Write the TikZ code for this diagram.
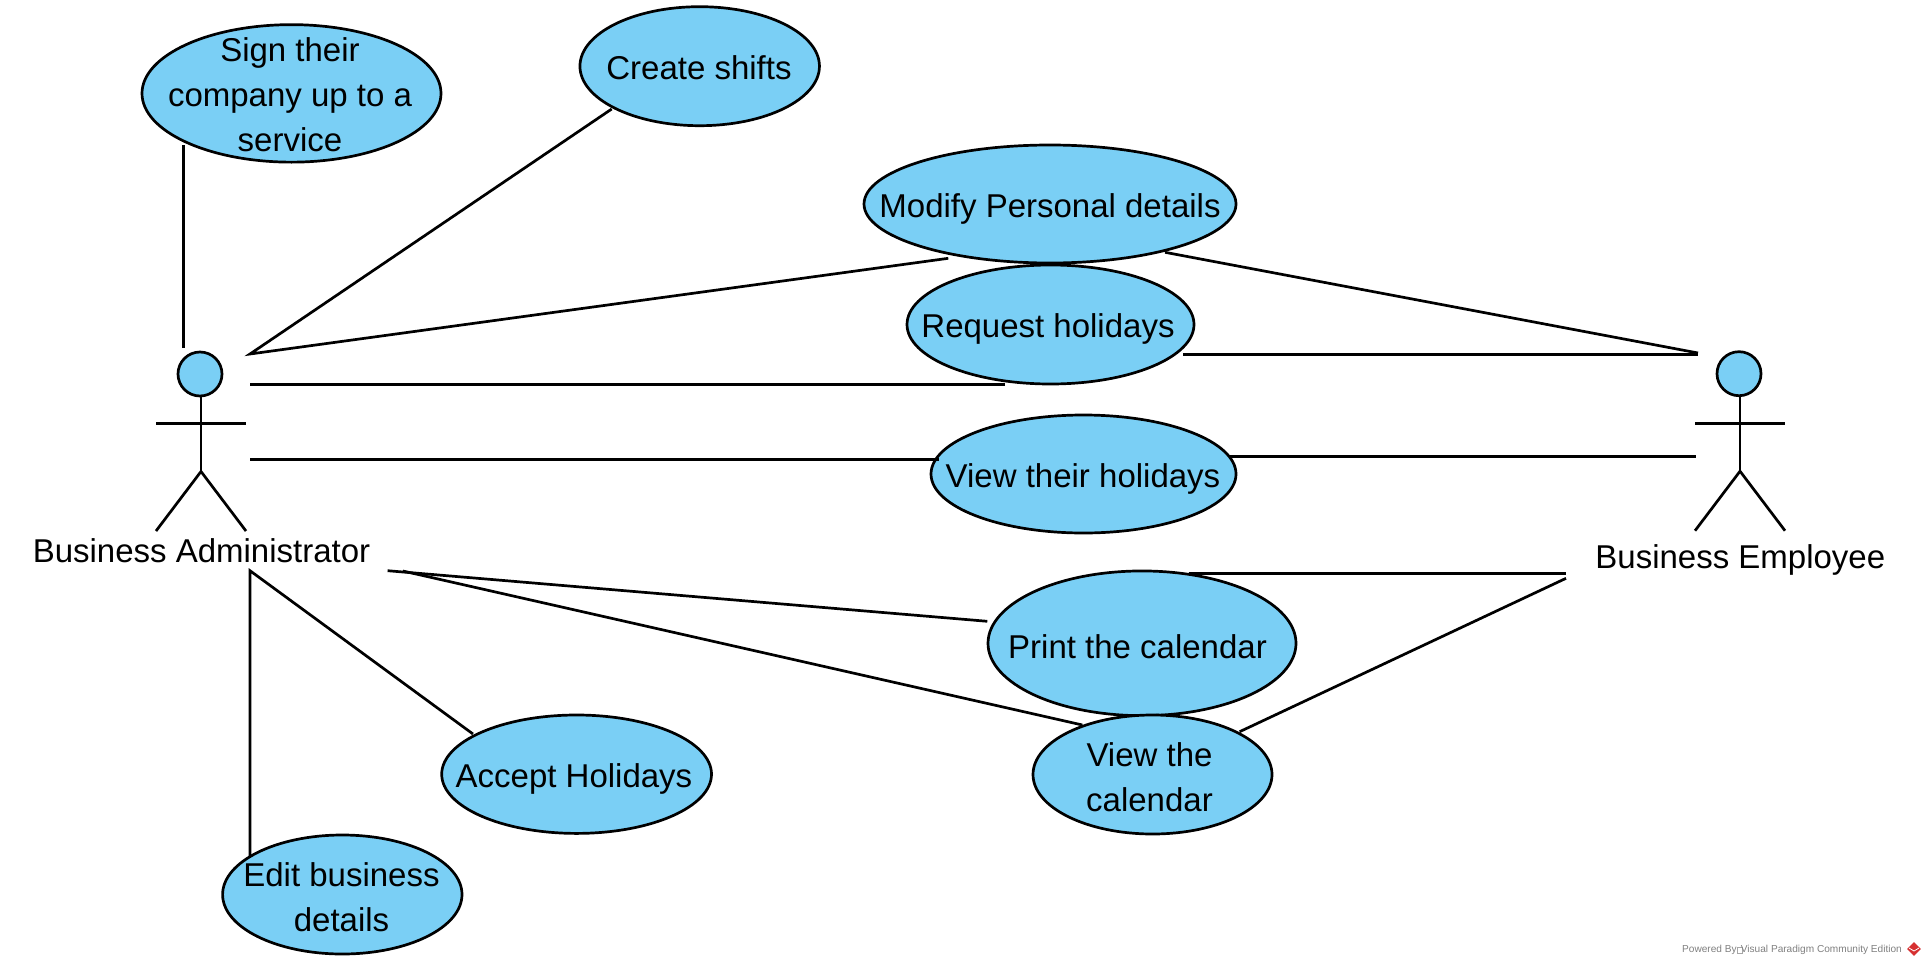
\documentclass[tikz,border=0pt]{standalone}
\usepackage{fontspec}
\setmainfont{Liberation Sans}
\usetikzlibrary{shapes.geometric}
\definecolor{ucblue}{RGB}{122,207,245}
\definecolor{vpgray}{RGB}{128,128,128}
\definecolor{vpred}{RGB}{214,48,49}
\tikzset{
  uc/.style={ellipse,draw=black,fill=ucblue,line width=2.7pt,inner sep=0pt,outer sep=0pt,minimum width=#1},
  lbl/.style={inner sep=0pt,outer sep=0pt,align=center,font=\fontsize{33}{45}\selectfont,text=black},
  conn/.style={draw=black,line width=2.7pt},
  limb/.style={draw=black,line width=2.7pt},
  foot/.style={inner sep=0pt,font=\fontsize{10.1}{12}\selectfont,text=vpgray}
}
\newcommand{\actorfig}[3]{%
  \node[circle,draw=black,fill=ucblue,line width=2.7pt,minimum size=44pt,inner sep=0pt,outer sep=0pt] (#1) at (#2,#3) {};
  \coordinate (#1n) at (#2+1,#3+23);
  \coordinate (#1hip) at (#2+1,#3+97.5);
  \coordinate (#1a) at (#2-44,#3+49.5);
  \coordinate (#1b) at (#2+46,#3+49.5);
  \coordinate (#1l) at (#2-44,#3+157);
  \coordinate (#1r) at (#2+46,#3+157);
  \draw[limb] (#1n) -- (#1hip);
  \draw[limb] (#1a) -- (#1b);
  \draw[limb] (#1l) -- (#1hip) -- (#1r);
}
\begin{document}
\begin{tikzpicture}[x=1pt,y=-1pt]
\useasboundingbox (0,0) rectangle (1926,966);
\fill[white] (0,0) rectangle (1926,966);
% use cases
\node[uc=299pt,minimum height=137.5pt] (sign) at (291.5,93.4) {};
\node[lbl] (signt) at (290,94.5) {Sign their\\company up to a\\service};
\node[uc=239.5pt,minimum height=119pt] (create) at (699.7,66.2) {};
\node[lbl] (createt) at (699,68) {Create shifts};
\node[uc=372pt,minimum height=118pt] (modify) at (1050,204) {};
\node[lbl] (modifyt) at (1050,209) {Modify Personal details};
\node[uc=287pt,minimum height=119pt] (request) at (1050.5,324.5) {};
\node[lbl] (requestt) at (1048,329) {Request holidays};
\node[uc=305pt,minimum height=118pt] (viewh) at (1083.5,474) {};
\node[lbl] (viewht) at (1083,479) {View their holidays};
\node[uc=308pt,minimum height=144.7pt] (print) at (1142,643.3) {};
\node[lbl] (printt) at (1137.5,647) {Print the calendar};
\node[uc=239pt,minimum height=119pt] (viewc) at (1152.5,774.5) {};
\node[lbl] (viewct) at (1149.5,777.6) {View the\\calendar};
\node[uc=269.8pt,minimum height=118.4pt] (accept) at (576.6,774.2) {};
\node[lbl] (acceptt) at (574,779) {Accept Holidays};
\node[uc=239.4pt,minimum height=119pt] (edit) at (342.3,894.5) {};
\node[lbl] (editt) at (341.5,897) {Edit business\\details};
% connector ends
\coordinate (s1) at (183.4,145); \coordinate (s2) at (183.4,348);
\coordinate (c1) at (611.7,109); \coordinate (c2) at (250,354);
\coordinate (m1) at (948.3,258.3);
\coordinate (r1) at (1005,384.3); \coordinate (r2) at (250,384.3);
\coordinate (v1) at (939,459.3); \coordinate (v2) at (250,459.3);
\coordinate (m3) at (1165,252.3); \coordinate (m4) at (1698,353);
\coordinate (r3) at (1183.3,354.3); \coordinate (r4) at (1698,354.3);
\coordinate (v3) at (1230,456.3); \coordinate (v4) at (1695.7,456.3);
\coordinate (p1) at (987.3,621.3); \coordinate (p2) at (387.6,570.7);
\coordinate (k1) at (1082.4,725); \coordinate (k2) at (402.8,571);
\coordinate (p3) at (1188.6,573.3); \coordinate (p4) at (1566,573.3);
\coordinate (k3) at (1239.6,731.7); \coordinate (k4) at (1566,578.3);
\coordinate (a1) at (473,734); \coordinate (a2) at (250,570.7);
\coordinate (e1) at (250,856);
% connectors
\draw[conn] (s1) -- (s2);
\draw[conn] (c1) -- (c2) -- (m1);
\draw[conn] (r1) -- (r2);
\draw[conn] (v1) -- (v2);
\draw[conn] (m3) -- (m4);
\draw[conn] (r3) -- (r4);
\draw[conn] (v3) -- (v4);
\draw[conn] (p1) -- (p2);
\draw[conn] (k1) -- (k2);
\draw[conn] (p3) -- (p4);
\draw[conn] (k3) -- (k4);
\draw[conn] (a1) -- (a2) -- (e1);
% actors
\actorfig{adm}{200}{374}
\actorfig{emp}{1739}{373.7}
\node[lbl] (admt) at (201.5,551) {Business Administrator};
\node[lbl] (empt) at (1740.3,559.5) {Business Employee};
% footer
\node[foot,anchor=west] (pw) at (1682,949.5) {Powered By};
\node[draw=vpgray!70,line width=0.5pt,minimum width=5pt,minimum height=6pt,inner sep=0pt] (tofu) at (1740,950) {};
\node[foot,anchor=east] (vp) at (1902,949.5) {Visual Paradigm Community Edition};
\node[diamond,fill=vpred,inner sep=0pt,minimum size=14pt] (logo) at (1914,949) {};
\draw[white,line width=0.8pt] (1909,948) -- (1914,951) -- (1919,948);
\end{tikzpicture}
\end{document}
